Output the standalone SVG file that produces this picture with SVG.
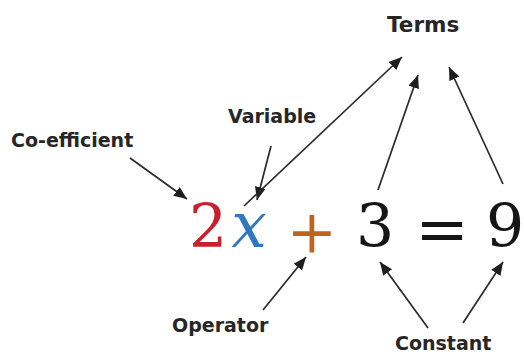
<svg xmlns="http://www.w3.org/2000/svg" width="524" height="354" viewBox="0 0 524 354">
<defs>
<marker id="ah" markerUnits="userSpaceOnUse" markerWidth="14" markerHeight="12" refX="13" refY="5.5" orient="auto">
<path d="M0,0 L13,5.5 L0,11 z" fill="#1e1e1e"/>
</marker>
<style>
.lbl{font-family:"DejaVu Sans",sans-serif;font-weight:bold;font-size:19px;fill:#262626}
.eq{font-family:"DejaVu Serif",serif;font-size:60px;text-anchor:middle}
.conn line{stroke:#2a2a2a;stroke-width:1.7;marker-end:url(#ah)}
</style>
</defs>
<rect width="524" height="354" fill="#ffffff"/>
<g id="terms"><text class="lbl" x="387" y="32" style="font-size:21.5px">Terms</text></g>
<g id="variable"><text class="lbl" x="228" y="123">Variable</text></g>
<g id="coefficient"><text class="lbl" x="11" y="147">Co-efficient</text></g>
<g id="operator"><text class="lbl" x="172" y="332">Operator</text></g>
<g id="constant"><text class="lbl" x="395" y="350">Constant</text></g>
<g id="equation">
<text class="eq" x="208" y="247" fill="#cc1f2e">2</text>
<text class="eq" x="249" y="247" fill="#2f78c0" style="font-style:italic;font-size:63px">x</text>
<text class="eq" x="312" y="252" fill="#c0641c" style="font-weight:300">+</text>
<text class="eq" x="375" y="247" fill="#151515">3</text>
<text class="eq" x="442" y="251" fill="#151515" style="font-size:64px">=</text>
<text class="eq" x="505" y="247" fill="#151515">9</text>
</g>
<g id="connectors" class="conn">
<line x1="130" y1="158" x2="187" y2="199"/>
<line x1="271" y1="146" x2="257" y2="200"/>
<line x1="244" y1="206" x2="402" y2="57"/>
<line x1="378" y1="190" x2="418" y2="75"/>
<line x1="503" y1="184" x2="449" y2="67"/>
<line x1="263" y1="310" x2="306" y2="257"/>
<line x1="428" y1="328" x2="380" y2="262"/>
<line x1="463" y1="323" x2="503" y2="262"/>
</g>
</svg>
